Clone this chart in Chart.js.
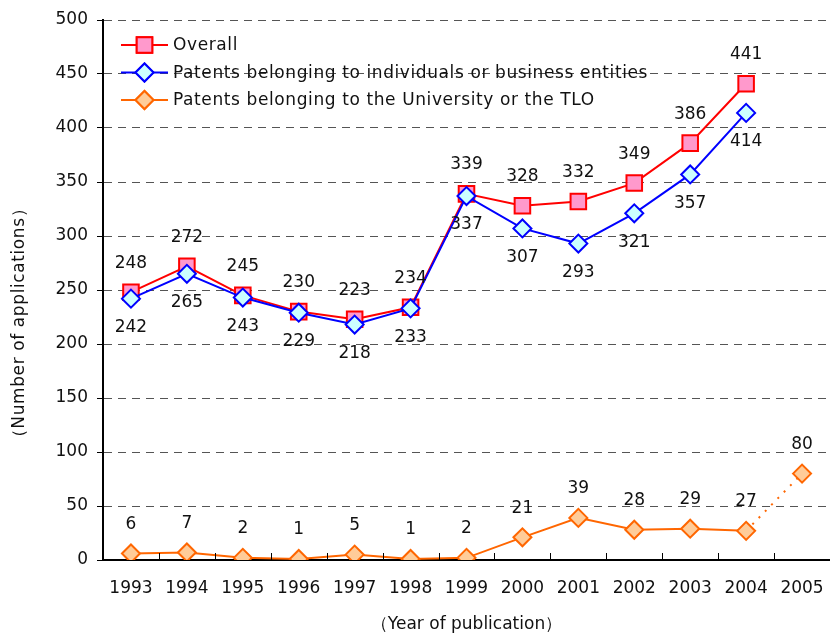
<!DOCTYPE html>
<html>
<head>
<meta charset="utf-8">
<script src="https://cdn.jsdelivr.net/npm/chart.js@4/dist/chart.umd.min.js"></script>
<style>
  html, body { margin: 0; padding: 0; background: #fff; }
  #wrap { position: relative; width: 830px; height: 635px; }
</style>
</head>
<body>
<div id="wrap"><canvas id="chart"></canvas></div>
<script>
// --- data ---
const years = ['1993', '1994', '1995', '1996', '1997', '1998', '1999', '2000', '2001', '2002', '2003', '2004', '2005'];
const overall = [248, 272, 245, 230, 223, 234, 339, 328, 332, 349, 386, 441, null];
const individual = [242, 265, 243, 229, 218, 233, 337, 307, 293, 321, 357, 414, null];
const university = [6, 7, 2, 1, 5, 1, 2, 21, 39, 28, 29, 27, 80];
const seriesNames = [
    'Overall',
    'Patents belonging to individuals or business entities',
    'Patents belonging to the University or the TLO'
];
const yTitle = '（Number of applications）';
const xTitle = '（Year of publication）';

const FONT = "'DejaVu Sans', 'Noto Sans', sans-serif";

// 값 라벨 (위/아래)
const valueLabels = {
    id: 'valueLabels',
    afterDatasetsDraw(chart) {
        const ctx = chart.ctx;
        ctx.save();
        ctx.font = '17px ' + FONT;
        ctx.fillStyle = '#111';
        ctx.textAlign = 'center';
        ctx.textBaseline = 'middle';
        chart.data.datasets.forEach((ds, i) => {
            const meta = chart.getDatasetMeta(i);
            const dir = ds.labelPos === 'below' ? 1 : -1;
            meta.data.forEach((pt, j) => {
                const v = ds.data[j];
                if (v === null || v === undefined) return;
                ctx.fillText(String(v), pt.x, pt.y + dir * 29);
            });
        });
        ctx.restore();
    }
};

// 범례 + x축 안쪽 눈금 + y축 제목
const innerLegend = {
    id: 'innerLegend',
    afterDraw(chart) {
        const ctx = chart.ctx;
        const area = chart.chartArea;
        ctx.save();

        // x tick marks pointing into the plot
        const xs = chart.scales.x;
        ctx.strokeStyle = '#000';
        ctx.lineWidth = 1;
        for (let i = 1; i < years.length; i++) {
            const x = Math.round((xs.getPixelForTick(i - 1) + xs.getPixelForTick(i)) / 2) + 0.5;
            ctx.beginPath();
            ctx.moveTo(x, area.bottom);
            ctx.lineTo(x, area.bottom - 7);
            ctx.stroke();
        }

        [0, 1, 2].forEach((di, row) => {
            const ds = chart.data.datasets[di];
            const y = area.top + 25 + row * 27.5;
            const x0 = area.left + 18;
            ctx.strokeStyle = ds.borderColor;
            ctx.lineWidth = 2;
            ctx.setLineDash([]);
            ctx.beginPath();
            ctx.moveTo(x0, y);
            ctx.lineTo(x0 + 47, y);
            ctx.stroke();
            Chart.helpers.drawPoint(ctx, {
                pointStyle: ds.pointStyle,
                radius: ds.pointRadius,
                borderWidth: 2
            }, x0 + 23.5, y);
            ctx.fillStyle = ds.pointBackgroundColor;
            ctx.strokeStyle = ds.borderColor;
            ctx.lineWidth = 2;
            ctx.fill();
            ctx.stroke();
            ctx.fillStyle = '#111';
            ctx.font = '17px ' + FONT;
            ctx.letterSpacing = '0.6px';
            ctx.textAlign = 'left';
            ctx.textBaseline = 'middle';
            ctx.fillText(seriesNames[di], x0 + 52, y + 1);
            ctx.letterSpacing = '0px';
        });

        // y axis title
        ctx.translate(20, 323);
        ctx.rotate(-Math.PI / 2);
        ctx.fillStyle = '#111';
        ctx.font = '17px ' + FONT;
        ctx.letterSpacing = '0.6px';
        ctx.textAlign = 'center';
        ctx.textBaseline = 'middle';
        ctx.fillText(yTitle, 0, 0);
        ctx.restore();
    }
};

new Chart(document.getElementById('chart'), {
    type: 'line',
    data: {
        labels: years,
        datasets: [
            {
                label: seriesNames[0],
                data: overall,
                borderColor: '#ff0000',
                backgroundColor: '#ff99cc',
                pointBackgroundColor: '#ff99cc',
                pointBorderColor: '#ff0000',
                pointStyle: 'rect',
                pointRadius: 11,
                pointBorderWidth: 2,
                borderWidth: 2,
                labelPos: 'above',
                order: 2
            },
            {
                label: seriesNames[1],
                data: individual,
                borderColor: '#0000ff',
                backgroundColor: '#ccffff',
                pointBackgroundColor: '#ccffff',
                pointBorderColor: '#0000ff',
                pointStyle: 'rectRot',
                pointRadius: 9,
                pointBorderWidth: 2,
                borderWidth: 2,
                labelPos: 'below',
                order: 1
            },
            {
                label: seriesNames[2],
                data: university,
                borderColor: '#ff6600',
                backgroundColor: '#ffcc99',
                pointBackgroundColor: '#ffcc99',
                pointBorderColor: '#ff6600',
                pointStyle: 'rectRot',
                pointRadius: 9,
                pointBorderWidth: 2,
                borderWidth: 2,
                labelPos: 'above',
                segment: {
                    borderDash: c => c.p1DataIndex === years.length - 1 ? [2, 7] : undefined
                },
                order: 3
            }
        ]
    },
    options: {
        responsive: true,
        maintainAspectRatio: false,
        animation: false,
        layout: { autoPadding: false, padding: { top: 20, right: 0, left: 0, bottom: 0 } },
        plugins: {
            legend: { display: false },
            tooltip: { enabled: false }
        },
        scales: {
            x: {
                offset: true,
                grid: { display: false, drawTicks: false, offset: true },
                border: { display: true, color: '#000', width: 2 },
                ticks: { color: '#111', font: { family: FONT, size: 17 }, padding: 18, maxRotation: 0 },
                title: {
                    display: true,
                    text: xTitle,
                    color: '#111',
                    font: { family: FONT, size: 17 },
                    padding: { top: 0, bottom: 0 }
                },
                afterFit: s => { s.height = 75; s.paddingLeft = 0; s.paddingRight = 0; }
            },
            y: {
                min: 0,
                max: 500,
                ticks: { stepSize: 50, color: '#111', font: { family: FONT, size: 17 }, padding: 9 },
                grid: {
                    color: '#555',
                    lineWidth: 1,
                    drawTicks: true,
                    tickLength: 6,
                    tickColor: '#000',
                    tickBorderDash: []
                },
                border: { display: true, color: '#000', width: 2, dash: [8, 6] },
                title: { display: false },
                afterFit: s => { s.width = 103; s.paddingTop = 0; s.paddingBottom = 0; }
            }
        }
    },
    plugins: [valueLabels, innerLegend]
});
</script>
</body>
</html>
